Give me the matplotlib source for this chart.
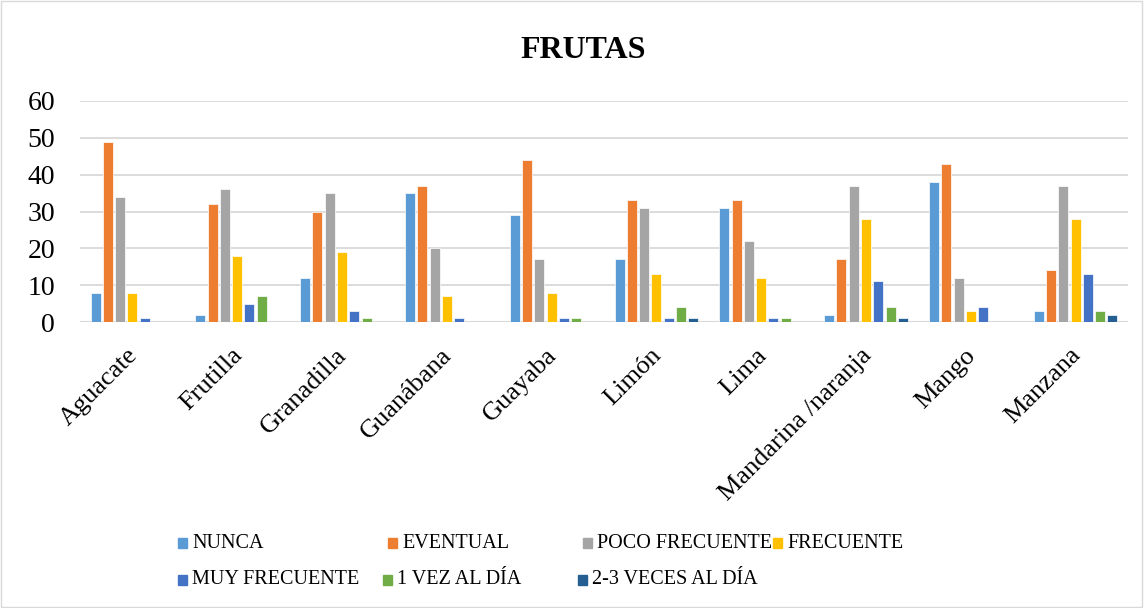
import numpy as np
import matplotlib.pyplot as plt
import matplotlib.transforms as mtransforms
from matplotlib.patches import Rectangle

plt.rcParams['font.family'] = ['Liberation Serif', 'DejaVu Serif']

categorias = ["Aguacate", "Frutilla", "Granadilla", "Guanábana", "Guayaba",
              "Limón", "Lima", "Mandarina /naranja", "Mango", "Manzana"]
series = ["NUNCA", "EVENTUAL", "POCO FRECUENTE", "FRECUENTE",
          "MUY FRECUENTE", "1 VEZ AL DÍA", "2-3 VECES AL DÍA"]

nunca = [8, 2, 12, 35, 29, 17, 31, 2, 38, 3]
eventual = [49, 32, 30, 37, 44, 33, 33, 17, 43, 14]
poco_frecuente = [34, 36, 35, 20, 17, 31, 22, 37, 12, 37]
frecuente = [8, 18, 19, 7, 8, 13, 12, 28, 3, 28]
muy_frecuente = [1, 5, 3, 1, 1, 1, 1, 11, 4, 13]
una_vez = [0, 7, 1, 0, 1, 4, 1, 4, 0, 3]
dos_tres_veces = [0, 0, 0, 0, 0, 1, 0, 1, 0, 2]

valores = [nunca, eventual, poco_frecuente, frecuente,
           muy_frecuente, una_vez, dos_tres_veces]
colores = ["#5b9bd5", "#ed7d31", "#a5a5a5", "#ffc000",
           "#4472c4", "#70ad47", "#255e91"]

W, H = 1144, 608
fig = plt.figure(figsize=(W / 100, H / 100), dpi=100)
fig.patches.append(Rectangle((0.001, 0.002), 0.997, 0.996, transform=fig.transFigure,
                             fill=False, edgecolor="#d9d9d9", linewidth=1))
ax = fig.add_axes([80 / W, 1 - 322 / H, 1048 / W, 221 / H])

x = np.arange(len(categorias))
paso = 0.117
ancho = 0.095
for i, (nombre, vals, c) in enumerate(zip(series, valores, colores)):
    ax.bar(x + (i - 3) * paso, vals, width=ancho, color=c, label=nombre,
           edgecolor="white", linewidth=0.5, zorder=3)

ax.set_xlim(-0.5, len(categorias) - 0.5)
ax.set_ylim(0, 60)
ax.set_yticks(range(0, 61, 10))
ax.yaxis.grid(True, color="#d9d9d9", linewidth=1.3, zorder=0)
ax.tick_params(axis="y", length=0, labelsize=20, pad=18)
ax.tick_params(axis="x", length=0, labelsize=19, pad=16)
ax.set_xticks(x)
ax.set_xticklabels(categorias, rotation=45, ha="right", rotation_mode="anchor")
desplaza = mtransforms.ScaledTranslation(-6 / 100, 0, fig.dpi_scale_trans)
for lbl in ax.get_xticklabels():
    lbl.set_transform(lbl.get_transform() + desplaza)
for s in ax.spines.values():
    s.set_visible(False)
ax.axhline(0, color="#d9d9d9", linewidth=1.5, zorder=2)

fig.text(583 / W, 1 - 50 / H, "FRUTAS", ha="center", va="center",
         fontsize=23, fontweight="bold")

# leyenda al estilo Excel: dos filas con posiciones fijas
pos_leyenda = [(178, 543), (388, 543), (583, 543), (773, 543),
               (178, 580), (383, 580), (578, 580)]
for nombre, c, (px, py) in zip(series, colores, pos_leyenda):
    fig.patches.append(Rectangle((px / W, 1 - (py + 5) / H), 9 / W, 10 / H,
                                 transform=fig.transFigure, color=c))
    fig.text((px + 14) / W, 1 - py / H, nombre, ha="left", va="center",
             fontsize=14.5)

fig.savefig("out.png", dpi=100)
